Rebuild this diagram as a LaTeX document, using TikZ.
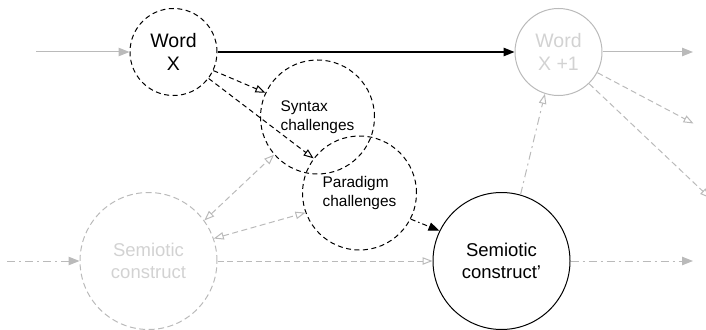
\documentclass[tikz,border=0pt]{standalone}
\usepackage{fontspec}
\setmainfont{Liberation Sans}
\usetikzlibrary{arrows.meta}
\definecolor{mylinegray}{RGB}{186,186,186}
\definecolor{mytextgray}{RGB}{210,210,210}
\begin{document}
\begin{tikzpicture}[x=1pt,y=-1pt,line width=1pt,
            bubble/.style={circle,inner sep=0pt,align=center,line width=1pt},
            wordbubble/.style={bubble,minimum size=87pt,font=\fontsize{19.5}{23}\selectfont},
            chalbubble/.style={bubble,minimum size=114pt,align=left,font=\fontsize{15.4}{19}\selectfont,blackdash},
            constbubble/.style={bubble,minimum size=137pt,font=\fontsize{18.5}{21.5}\selectfont},
            blackdash/.style={draw=black,dash pattern=on 5pt off 3.5pt},
            greydash/.style={draw=mylinegray,dash pattern=on 6pt off 3.5pt},
            greydashdot/.style={draw=mylinegray,dash pattern=on 8pt off 4pt on 2pt off 4pt},
            blackdashdot/.style={draw=black,dash pattern=on 5pt off 3pt on 1.5pt off 3pt},
            fillhead/.style={-{Triangle[length=11pt,width=8.5pt]}},
            openhead/.style={-{Triangle[open,length=10pt,width=7.5pt]}},
            bothopen/.style={{Triangle[open,length=10pt,width=7.5pt]}-{Triangle[open,length=10pt,width=7.5pt]}}]
            \useasboundingbox (0,0) rectangle (706,329);
            \node[wordbubble,blackdash] (wordx) at (173.5,52) {Word\\X};
            \node[wordbubble,draw=mylinegray,text=mytextgray] (wordnext) at (558.5,52) {Word\\X +1};
            \node[chalbubble] (syntax) at (317.5,117) {Syntax\\challenges};
            \node[chalbubble] (paradigm) at (359.5,193) {Paradigm\\challenges};
            \node[constbubble,greydash,text=mytextgray] (oldsem) at (148.5,261) {Semiotic\\construct};
            \node[constbubble,draw=black] (newsem) at (501.5,261) {Semiotic\\construct'};
            \coordinate (wordin) at (36,52);
            \coordinate (wordout) at (693,52);
            \coordinate (nextA) at (693.5,123.5);
            \coordinate (nextB) at (710,198);
            \coordinate (semin) at (7,261);
            \coordinate (semout) at (693,261);
            \draw[fillhead,mylinegray] (wordin)--(wordx.west);
            \draw[fillhead,line width=1.3pt] (wordx.east)--(wordnext.west);
            \draw[fillhead,mylinegray] (wordnext.east)--(wordout);
            \draw[openhead,blackdash] (wordx.-25)--(syntax.155);
            \draw[openhead,blackdash] (wordx.-37)--(paradigm.143);
            \draw[fillhead,blackdashdot] (paradigm.-27)--(newsem.154.5);
            \draw[bothopen,greydash] (oldsem.36.5)--(syntax.-139);
            \draw[bothopen,greydash] (oldsem.19)--(paradigm.-160);
            \draw[fillhead,greydashdot] (semin)--(oldsem.west);
            \draw[openhead,greydash] (oldsem.east)--(newsem.west);
            \draw[fillhead,greydashdot] (newsem.east)--(semout);
            \draw[openhead,greydashdot] (newsem.74)--(wordnext.-108.5);
            \draw[openhead,greydash] (wordnext.-28)--(nextA);
            \draw[openhead,greydash] (wordnext.-46)--(nextB);
        \end{tikzpicture}
\end{document}
